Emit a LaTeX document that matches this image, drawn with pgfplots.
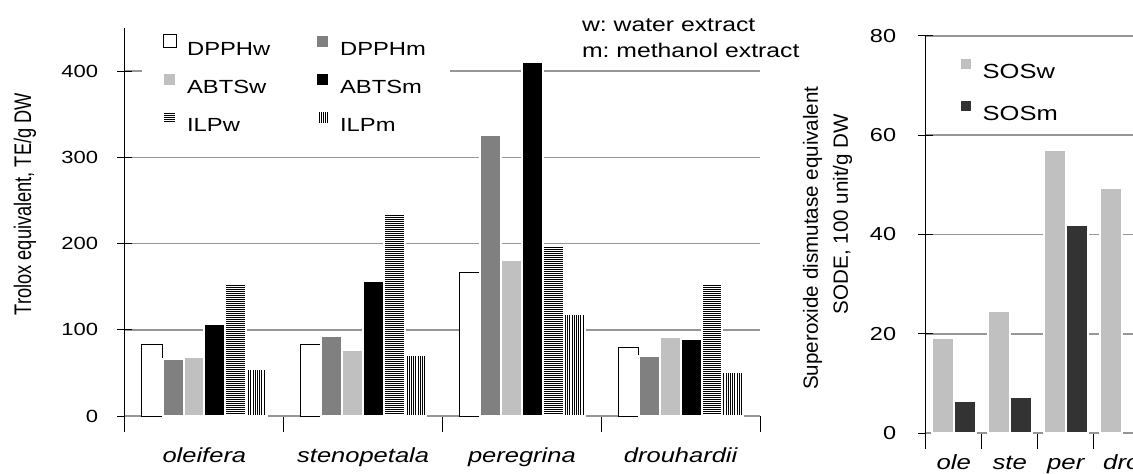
\documentclass[border=0pt]{standalone}
\usepackage{fontspec}
\setmainfont{Liberation Sans}
\newfontfamily\wide[FakeStretch=1.25]{Liberation Sans}
\newfontfamily\narrow[FakeStretch=0.76]{Liberation Sans}
\usepackage{pgfplots}
\pgfplotsset{compat=1.18}
\usetikzlibrary{patterns.meta}

\definecolor{dpphm}{RGB}{128,128,128}
\definecolor{abtsw}{RGB}{192,192,192}
\definecolor{sosm}{RGB}{51,51,51}
\definecolor{gridgray}{RGB}{150,150,150}

\pgfplotsset{
  panel/.style={
    scale only axis,
    axis x line=bottom, axis y line=left,
    x axis line style={-, gridgray, line width=1pt},
    y axis line style={-, black, line width=0.5pt},
    tick align=center,
    major tick length=7.5pt, minor tick length=8pt,
    every major x tick/.append style={draw=none},
    every minor x tick/.append style={black, line width=0.5pt},
    every major y tick/.append style={black, line width=0.5pt},
    ymajorgrids, grid style={gridgray, line width=0.8pt},
    enlarge x limits=false, enlarge y limits=false,
    /pgf/number format/assume math mode=true,
    clip=false,
  },
  swatch/.style={legend image code/.code={\draw[##1] (0pt,0.25pt) rectangle (6.5pt,6.75pt);}},
  swatchs/.style={legend image code/.code={\draw[##1] (0pt,0.6pt) rectangle (6pt,6.6pt);}},
}

\begin{document}
\begin{tikzpicture}

% antioxidant capacity, Trolox equivalents
\begin{axis}[panel,
  at={(62.5pt,28.5pt)}, anchor=south west,
  width=317.5pt, height=194pt,
  xmin=-0.5, xmax=3.5, ymin=0, ymax=450,
  ytick={0,100,200,300,400},
  xtick={0,1,2,3},
  xticklabels={oleifera,stenopetala,peregrina,drouhardii},
  minor xtick={-0.5,0.5,1.5,2.5,3.5},
  yticklabel style={anchor=east, inner sep=0pt, xshift=-9.5pt, font=\fontsize{8.8}{10}\wide},
  xticklabel style={anchor=base, inner sep=0pt, yshift=-15.5pt, font=\fontsize{10.2}{12}\wide\itshape},
  ybar=0pt, bar width=0.1315,
  legend columns=2,
  legend cell align=left,
  legend style={at={(rel axis cs:0.0263,1)}, anchor=north west,
    draw=none, fill=white, inner xsep=10pt, inner ysep=2.75pt,
    font=\fontsize{9.5}{11}\wide,
    nodes={inner sep=0pt, text height=7pt, text depth=0pt, text width=45pt, align=left},
    /tikz/every odd column/.append style={column sep=5pt},
    /tikz/every even column/.append style={column sep=19pt},
    row sep=8.3pt},
]
\addplot[fill=white, draw=black, line width=0.5pt, swatch]
  coordinates {(0,83) (1,83) (2,166) (3,80)};
\addplot[fill=dpphm, draw=white, line width=1pt, swatch]
  coordinates {(0,66) (1,93) (2,326) (3,70)};
\addplot[fill=abtsw, draw=white, line width=1pt, swatch]
  coordinates {(0,69) (1,77) (2,181) (3,92)};
\addplot[fill=black, draw=white, line width=1pt, swatch]
  coordinates {(0,107) (1,157) (2,410) (3,89)};
\addplot[preaction={fill=white}, pattern={Lines[angle=0, distance=1pt, line width=0.5pt]},
  draw=white, line width=1pt, swatch]
  coordinates {(0,153) (1,235) (2,198) (3,154)};
\addplot[preaction={fill=white}, pattern={Lines[angle=90, distance=1.1pt, line width=0.45pt]},
  draw=white, line width=1pt, swatch]
  coordinates {(0,55) (1,71) (2,118) (3,51)};
\legend{DPPHw,DPPHm,ABTSw,ABTSm,ILPw,ILPm}

\node[anchor=base west, inner sep=0pt, font=\fontsize{9.9}{12}\wide]
  at (rel axis cs:0.7192,0.9905) {w:\ water extract};
\node[anchor=base west, inner sep=0pt, font=\fontsize{9.9}{12}\wide]
  at (rel axis cs:0.7192,0.9245) {m:\ methanol extract};
\node[rotate=90, inner sep=0pt, font=\fontsize{12}{14}\narrow]
  at (rel axis cs:-0.1575,0.546) {Trolox equivalent, TE/g DW};
\end{axis}

% superoxide dismutase equivalents
\begin{axis}[panel,
  at={(462.85pt,19.85pt)}, anchor=south west,
  width=103.65pt, height=198.8pt,
  xmin=-0.5, xmax=3.2, ymin=0, ymax=80,
  ytick={0,20,40,60,80},
  xtick={0,1,2,3},
  xticklabels={ole,ste,per,dro},
  minor xtick={-0.5,0.5,1.5,2.5},
  yticklabel style={anchor=east, inner sep=0pt, xshift=-10.85pt, font=\fontsize{9.4}{11}\wide},
  xticklabel style={anchor=base, inner sep=0pt, yshift=-10.6pt, font=\fontsize{10.3}{12}\wide\itshape},
  ybar=0pt, bar width=0.39,
  legend cell align=left,
  legend style={at={(rel axis cs:0,1)}, anchor=north west,
    xshift=16.65pt, yshift=-10.6pt,
    draw=none, fill=none, inner sep=0pt,
    font=\fontsize{10.2}{12}\wide,
    nodes={inner sep=0pt, text height=7.2pt, text depth=0pt},
    /tikz/every odd column/.append style={column sep=4.65pt},
    row sep=10pt},
]
\addplot[fill=abtsw, draw=white, line width=1pt, swatchs]
  coordinates {(0,19.2) (1,24.7) (2,57.0) (3,49.4)};
\addplot[fill=sosm, draw=white, line width=1pt, swatchs]
  coordinates {(0,6.6) (1,7.3) (2,41.9)};
\legend{SOSw,SOSm}

\node[rotate=90, inner sep=0pt, font=\fontsize{10.3}{12}\selectfont]
  at (rel axis cs:-0.546,0.491) {Superoxide dismutase equivalent};
\node[rotate=90, inner sep=0pt, font=\fontsize{10.3}{12}\selectfont]
  at (rel axis cs:-0.401,0.5516) {SODE,\ 100 unit/g DW};
\end{axis}

\pgfresetboundingbox
\useasboundingbox (0,0) rectangle (566.5pt,236.5pt);
\end{tikzpicture}
\end{document}
